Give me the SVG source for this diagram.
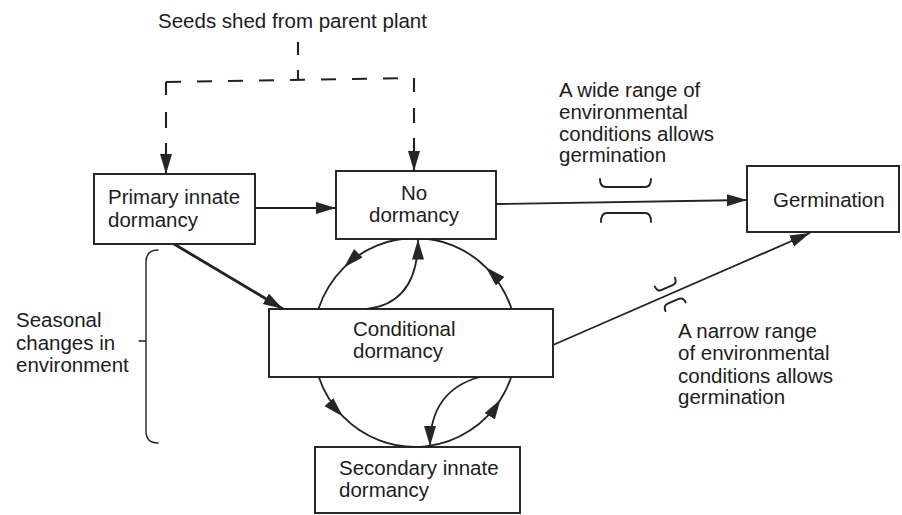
<svg xmlns="http://www.w3.org/2000/svg" width="902" height="515" viewBox="0 0 902 515">
<defs>
<style>
.box{fill:#fff;stroke:#1e1e1e;stroke-width:1.9}
.t{font-family:"Liberation Sans",Arial,Helvetica,sans-serif;font-size:20.5px;fill:#1c1c1c}
.ln{fill:none;stroke:#222;stroke-width:1.8}
.thick{stroke-width:2.8}
.dash{fill:none;stroke:#222;stroke-width:2.1}
.br{fill:none;stroke:#222;stroke-width:1.9;stroke-linecap:round}
</style>
<marker id="ah" markerUnits="userSpaceOnUse" markerWidth="22" markerHeight="13" refX="20" refY="6" orient="auto">
<path d="M0,0 L20,6 L0,12 Z" fill="#262626"/>
</marker>
</defs>
<rect width="902" height="515" fill="#fff"/>

<g id="connectors">
<!-- dashed seed-shedding lines -->
<path class="dash" d="M298,42 V55 M298,70 V80"/>
<path class="dash" d="M166,82 L414,78" stroke-dasharray="15 16"/>
<path class="dash" d="M166,82 V95 M166,112 V128 M166,143 V174" marker-end="url(#ah)"/>
<path class="dash" d="M414,78 V92 M414,108 V123 M414,138 V171" marker-end="url(#ah)"/>
<!-- straight arrows -->
<path class="ln" d="M255,208 H336" marker-end="url(#ah)"/>
<path class="ln" d="M496,204 L747,200" marker-end="url(#ah)"/>
<path class="ln" d="M553,345 L810,233" marker-end="url(#ah)"/>
<path class="ln thick" d="M174,244 L283,309" marker-end="url(#ah)"/>
<!-- cycle arcs -->
<path class="ln" d="M511.6,309 A102,104.5 0 0 0 485.9,267.3 A102,104.5 0 0 0 415,238" marker-mid="url(#ah)"/>
<path class="ln" d="M415,238 A102,104.5 0 0 0 344.1,267.3 A102,104.5 0 0 0 318.4,309" marker-mid="url(#ah)"/>
<path class="ln" d="M318.4,376 A102,104.5 0 0 0 342.9,416.4 A102,104.5 0 0 0 500.5,399.4 A102,104.5 0 0 0 511.6,376" marker-mid="url(#ah)"/>
<path class="ln" d="M367,309 C392,306 418,292 418,239.5" marker-end="url(#ah)"/>
<path class="ln" d="M480,377 C450,385 430,405 430,446" marker-end="url(#ah)"/>
<!-- range brackets -->
<path class="br" d="M600,179 Q600,187 606,187 H645 Q651,187 651,179"/>
<path class="br" d="M601,222 Q601,213 607,213 H645 Q651,213 651,222"/>
<g transform="translate(670,294) rotate(-23.5)">
<path class="br" d="M-11,-13 Q-11,-7 -6,-7 H6 Q11,-7 11,-13"/>
<path class="br" d="M-11,14 Q-11,8 -6,8 H6 Q11,8 11,14"/>
</g>
<!-- seasonal brace -->
<path class="br" style="stroke-width:1.4" d="M158,250 Q146,250 146,262 V431 Q146,443 158,443 M139,341 H146"/>
</g>

<g id="seeds-label">
<text class="t" x="158" y="28">Seeds shed from parent plant</text>
</g>

<g id="primary">
<rect class="box" x="94" y="174" width="161" height="70"/>
<text class="t" x="108" y="204">Primary innate</text>
<text class="t" x="108" y="227">dormancy</text>
</g>

<g id="nodormancy">
<rect class="box" x="336" y="171" width="160" height="68"/>
<text class="t" x="414" y="200" text-anchor="middle">No</text>
<text class="t" x="414" y="222" text-anchor="middle">dormancy</text>
</g>

<g id="germination">
<rect class="box" x="747" y="166" width="152" height="66"/>
<text class="t" x="773" y="207">Germination</text>
</g>

<g id="conditional">
<rect class="box" x="269" y="309" width="284" height="68"/>
<text class="t" x="353" y="336">Conditional</text>
<text class="t" x="353" y="358">dormancy</text>
</g>

<g id="secondary">
<rect class="box" x="315" y="447" width="205" height="66"/>
<text class="t" x="339" y="475">Secondary innate</text>
<text class="t" x="339" y="497">dormancy</text>
</g>

<g id="wide-label">
<text class="t" x="559" y="97">A wide range of</text>
<text class="t" x="559" y="119">environmental</text>
<text class="t" x="559" y="140.5">conditions allows</text>
<text class="t" x="559" y="162">germination</text>
</g>

<g id="narrow-label">
<text class="t" x="678" y="338">A narrow range</text>
<text class="t" x="678" y="360">of environmental</text>
<text class="t" x="678" y="382.5">conditions allows</text>
<text class="t" x="678" y="404">germination</text>
</g>

<g id="seasonal-label">
<text class="t" x="16" y="327">Seasonal</text>
<text class="t" x="16" y="349.5">changes in</text>
<text class="t" x="16" y="372">environment</text>
</g>
</svg>
